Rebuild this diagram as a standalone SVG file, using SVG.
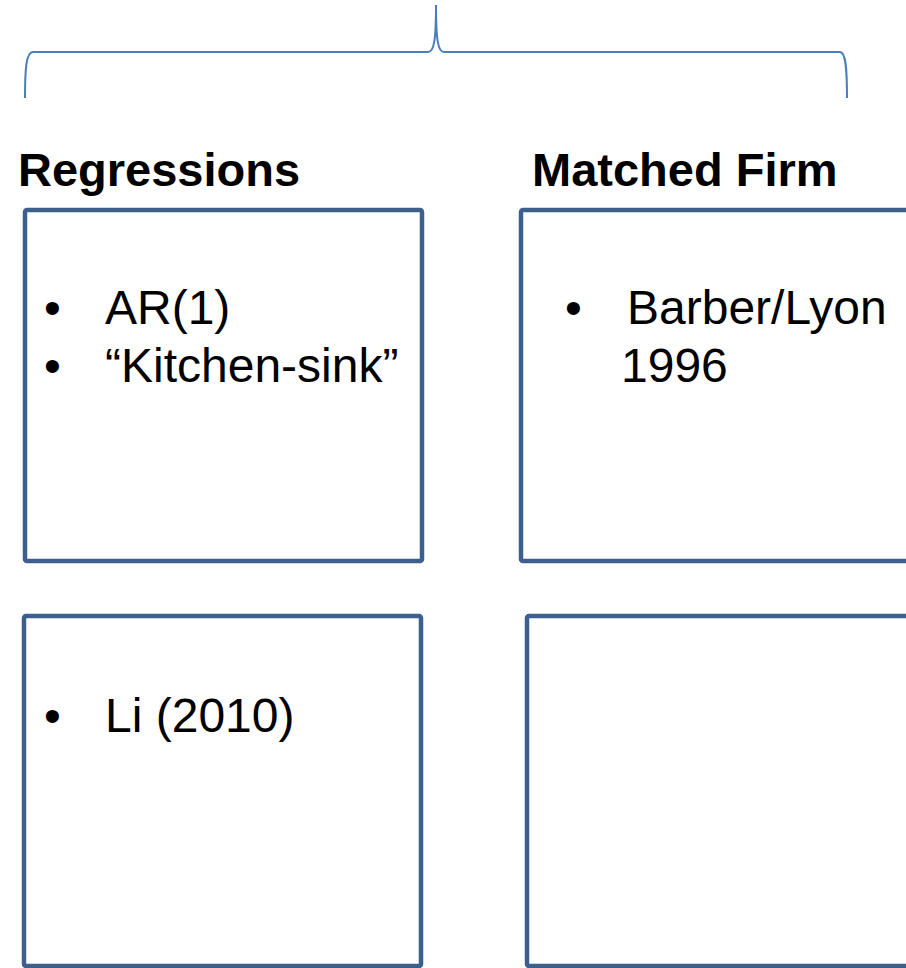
<svg xmlns="http://www.w3.org/2000/svg" width="906" height="968" viewBox="0 0 906 968">
<style>
.box{fill:#fff;stroke:#3C5F8D;stroke-width:4.5}
.t{font-family:"Liberation Sans",Arial,sans-serif;font-size:48px;fill:#000}
.h{font-family:"Liberation Sans",Arial,sans-serif;font-size:47px;font-weight:bold;fill:#000}
.brace{fill:none;stroke:#4A7EBB;stroke-width:2}
</style>
<rect width="906" height="968" fill="#fff"/>
<g id="connectors">
<path class="brace" d="M25,98 C25,70 26,52 33,52 L428,52 C434,52 436,40 436,5 C436,40 438,52 444,52 L840,52 C846,52 847,70 847,98"/>
</g>
<g id="header-regressions"><text class="h" x="18" y="186">Regressions</text></g>
<g id="header-matched"><text class="h" x="532" y="186">Matched Firm</text></g>
<g id="box-regressions">
<rect class="box" x="25" y="210" width="397" height="351" rx="2"/>
<text class="t" x="44" y="324">•</text>
<text class="t" x="105" y="324">AR(1)</text>
<text class="t" x="44" y="382">•</text>
<text class="t" x="105" y="382">“Kitchen-sink”</text>
</g>
<g id="box-matched">
<rect class="box" x="521" y="210" width="397" height="351" rx="2"/>
<text class="t" x="565" y="324">•</text>
<text class="t" x="627" y="324">Barber/Lyon</text>
<text class="t" x="621" y="382">1996</text>
</g>
<g id="box-li">
<rect class="box" x="24" y="616" width="397" height="350" rx="2"/>
<text class="t" x="44" y="732">•</text>
<text class="t" x="105" y="732">Li (2010)</text>
</g>
<g id="box-empty">
<rect class="box" x="527" y="616" width="397" height="350" rx="2"/>
</g>
</svg>
